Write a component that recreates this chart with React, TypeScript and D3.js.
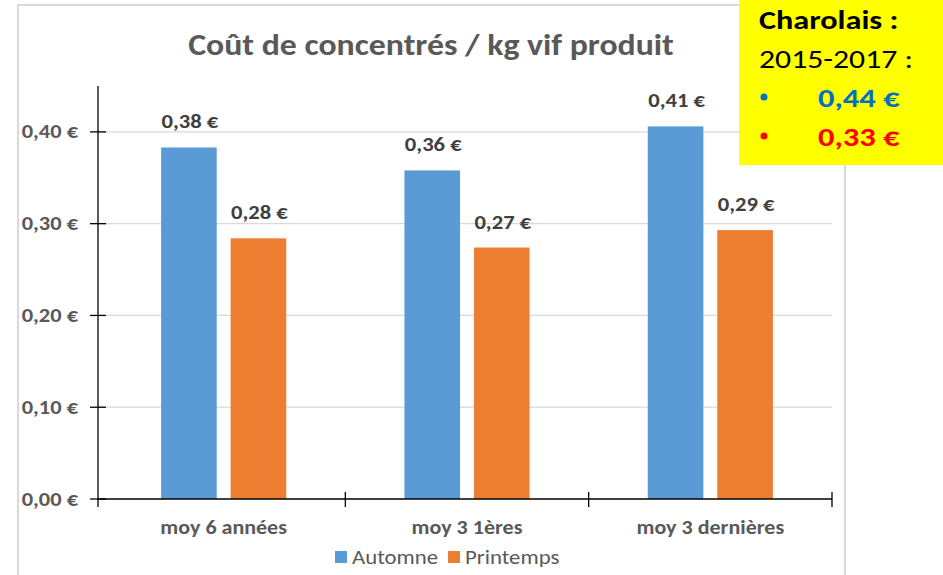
import { useEffect, useRef } from "react";
import * as d3 from "d3";

const categories = ["moy 6 années", "moy 3 1ères", "moy 3 dernières"];
const seriesNames = ["Automne", "Printemps"];
const automne = [0.383, 0.358, 0.406];
const printemps = [0.284, 0.274, 0.293];
const yTicks = [0, 0.1, 0.2, 0.3, 0.4];
const colors = ["#5B9BD5", "#ED7D31"];

const fmt = (v: number) => v.toFixed(2).replace(".", ",") + " €";
const FONT = "Carlito, Calibri, Lato, sans-serif";

// texte étiré horizontalement (la police de référence est plus large)
const addText = (
  sel: d3.Selection<any, any, any, any>,
  x: number, y: number, txt: string,
  size: number, sx: number, opts: { anchor?: string; bold?: boolean; fill?: string } = {}
) =>
  sel.append("text")
    .attr("transform", `translate(${x},${y}) scale(${sx},1)`)
    .attr("text-anchor", opts.anchor || "start")
    .attr("font-family", FONT)
    .attr("font-weight", opts.bold ? "bold" : "normal")
    .attr("font-size", size)
    .attr("fill", opts.fill || "#595959")
    .text(txt);

const App = () => {
  const svgRef = useRef<SVGSVGElement>(null);

  useEffect(() => {
    const svg = d3.select(svgRef.current).attr("width", 943).attr("height", 575);
    svg.selectAll("*").remove();

    const left = 98, right = 832, top = 86, bottom = 499;

    // cadre du graphique
    svg.append("rect")
      .attr("x", 18).attr("y", 5).attr("width", 827).attr("height", 600)
      .attr("fill", "white").attr("stroke", "#d9d9d9").attr("stroke-width", 2);

    const x0 = d3.scaleBand().domain(categories).range([left + 4, right]).padding(0);
    const x1 = d3.scaleBand().domain(seriesNames).range([0, x0.bandwidth()])
      .paddingInner(0.2).paddingOuter(0.85);
    const y = d3.scaleLinear().domain([0, 0.45]).range([bottom, top]);

    // grille
    svg.append("g").selectAll("line").data(yTicks.slice(1)).join("line")
      .attr("x1", left).attr("x2", right)
      .attr("y1", d => y(d)).attr("y2", d => y(d))
      .attr("stroke", "#d9d9d9").attr("stroke-width", 1.3);

    // barres
    const rows = categories.map((c, i) => ({ c, vals: [automne[i], printemps[i]] }));
    const groups = svg.append("g").selectAll("g").data(rows).join("g")
      .attr("transform", d => `translate(${x0(d.c)},0)`);
    groups.selectAll("rect").data(d => d.vals.map((v, j) => ({ v, s: seriesNames[j], j })))
      .join("rect")
      .attr("x", d => x1(d.s)!)
      .attr("y", d => y(d.v))
      .attr("width", x1.bandwidth())
      .attr("height", d => bottom - y(d.v))
      .attr("fill", d => colors[d.j]);
    groups.each(function (d) {
      const g = d3.select(this);
      d.vals.forEach((v, j) => {
        addText(g, x1(seriesNames[j])! + x1.bandwidth() / 2 + 1, y(v) - 19, fmt(v), 19.5, 1.16,
          { anchor: "middle", bold: true, fill: "#404040" });
      });
    });

    // axe y
    const gy = svg.append("g");
    yTicks.forEach(t => {
      addText(gy, 78, y(t) + 6.5, fmt(t), 19.5, 1.15, { anchor: "end", bold: true });
      gy.append("line").attr("x1", left - 8).attr("x2", left + 8)
        .attr("y1", y(t)).attr("y2", y(t)).attr("stroke", "#000").attr("stroke-width", 1.3);
    });
    svg.append("line").attr("x1", left).attr("x2", left).attr("y1", top).attr("y2", bottom + 8)
      .attr("stroke", "#000").attr("stroke-width", 1.3);

    // axe x
    svg.append("line").attr("x1", left).attr("x2", right).attr("y1", bottom).attr("y2", bottom)
      .attr("stroke", "#000").attr("stroke-width", 1.3);
    const bounds = categories.map(c => x0(c)!).concat([right]);
    svg.append("g").selectAll("line").data(bounds.slice(1)).join("line")
      .attr("x1", d => d).attr("x2", d => d).attr("y1", bottom - 7).attr("y2", bottom + 8)
      .attr("stroke", "#000").attr("stroke-width", 1.3);
    const gx = svg.append("g");
    categories.forEach(c => {
      addText(gx, x0(c)! + x0.bandwidth() / 2, 534, c, 19.5, 1.13, { anchor: "middle", bold: true });
    });

    // titre
    addText(svg, 431, 55, "Coût de concentrés / kg vif produit", 31, 1.09, { anchor: "middle", bold: true });

    // légende
    const legendX = [335, 448];
    seriesNames.forEach((s, i) => {
      svg.append("rect").attr("x", legendX[i]).attr("y", 551).attr("width", 12).attr("height", 12)
        .attr("fill", colors[i]);
      addText(svg, legendX[i] + 17, 564, s, 20, 1.14);
    });

    // encadré jaune
    const box = svg.append("g");
    box.append("rect").attr("x", 739).attr("y", 0).attr("width", 204).attr("height", 165)
      .attr("fill", "#FFFF00");
    addText(box, 759, 28.5, "Charolais :", 26, 1.24, { bold: true, fill: "#000" });
    addText(box, 759, 68, "2015-2017 :", 26, 1.22, { fill: "#000" });
    const items = [{ t: "0,44 €", c: "#0070C0", y: 107 }, { t: "0,33 €", c: "#FF0000", y: 146 }];
    items.forEach(it => {
      box.append("circle").attr("cx", 764).attr("cy", it.y - 10).attr("r", 3.5).attr("fill", it.c);
      addText(box, 818, it.y, it.t, 26, 1.25, { bold: true, fill: it.c });
    });
  }, []);

  return <svg ref={svgRef} style={{ position: "absolute", left: 0, top: 0 }} />;
};

export default App;
